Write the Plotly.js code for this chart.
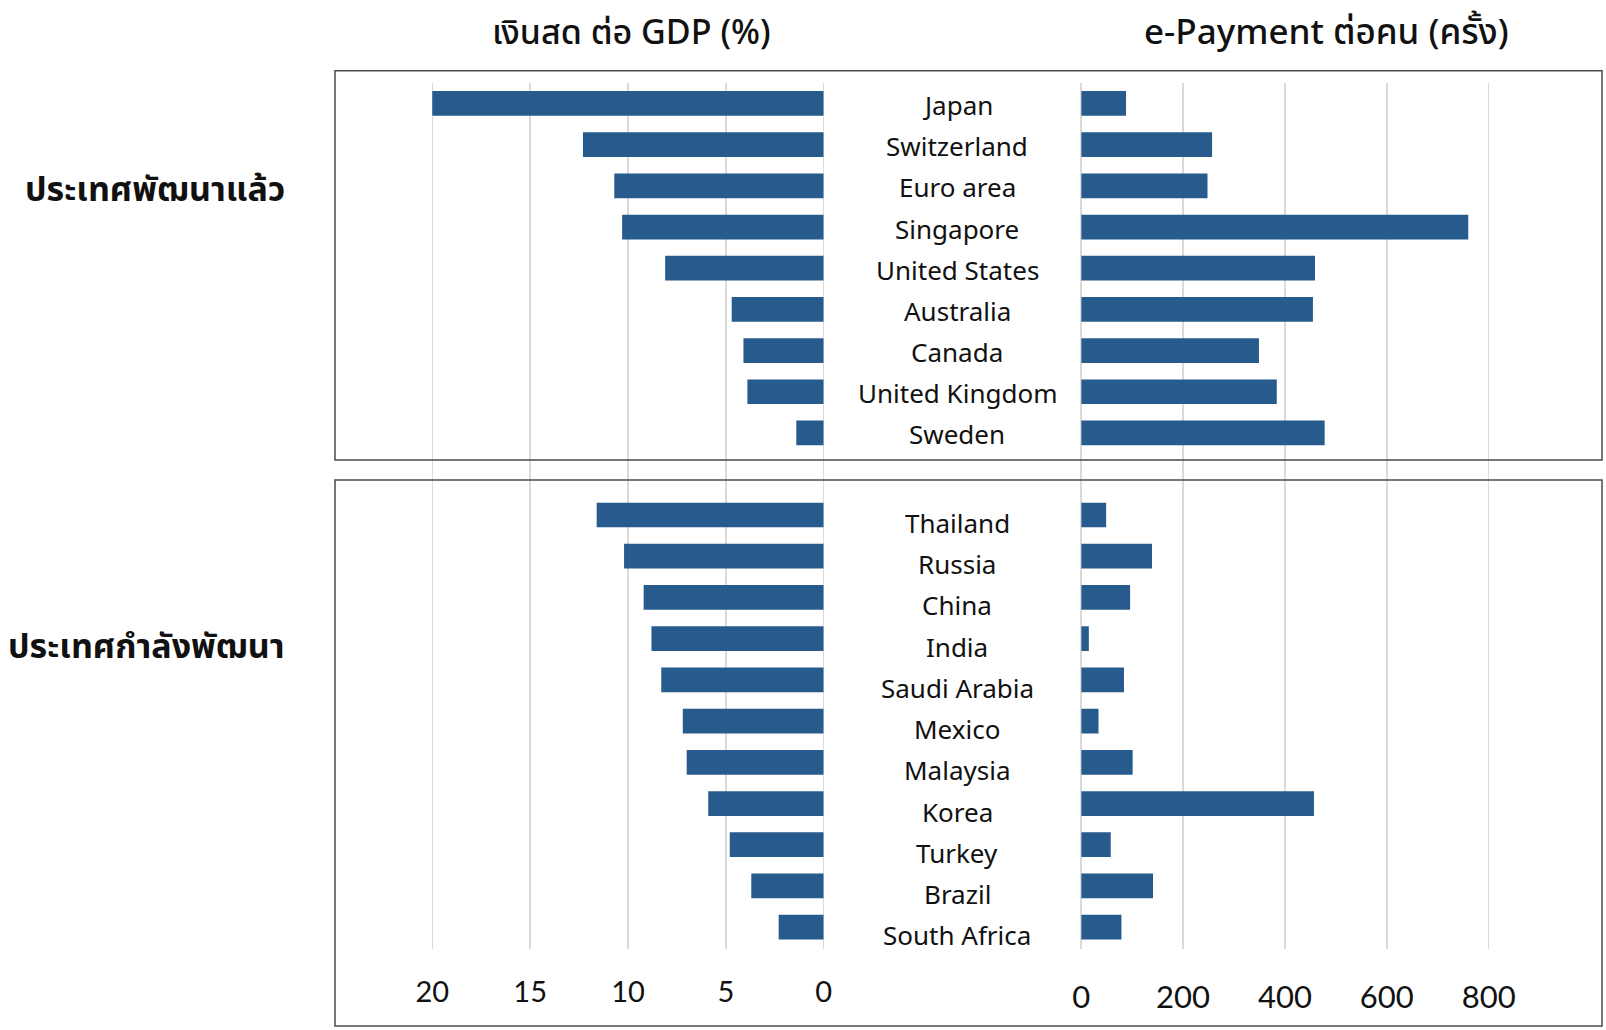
<!DOCTYPE html>
<html>
<head>
<meta charset="utf-8">
<script src="https://cdn.plot.ly/plotly-3.0.1.min.js"></script>
<style>html,body{margin:0;padding:0;background:#fff;}#chart{width:1606px;height:1030px;}</style>
</head>
<body>
<div id="chart"></div>
<script>
// ---- data ----
const devCountries = ["Japan","Switzerland","Euro area","Singapore","United States","Australia","Canada","United Kingdom","Sweden"];
const devCashGDP = [20.0, 12.3, 10.7, 10.3, 8.1, 4.7, 4.1, 3.9, 1.4];
const devEpay = [88, 257, 248, 760, 459, 455, 349, 384, 478];

const emCountries = ["Thailand","Russia","China","India","Saudi Arabia","Mexico","Malaysia","Korea","Turkey","Brazil","South Africa"];
const emCashGDP = [11.6, 10.2, 9.2, 8.8, 8.3, 7.2, 7.0, 5.9, 4.8, 3.7, 2.3];
const emEpay = [49, 139, 96, 15, 84, 34, 101, 457, 58, 141, 79];

const cashTicks = [0, 5, 10, 15, 20];
const epayTicks = [0, 200, 400, 600, 800];

const titleLeft = "เงินสด ต่อ GDP (%)";
const titleRight = "e-Payment ต่อคน (ครั้ง)";
const groupDev = "ประเทศพัฒนาแล้ว";
const groupEm = "ประเทศกำลังพัฒนา";

// ---- layout helpers ----
const W = 1606, H = 1030;
const px = v => v / W;
const py = v => 1 - v / H;
const barColor = "#275b8d";
const gridColor = "#dadada";
const thaiFont = "'Noto Sans Thai', 'Noto Sans', sans-serif";

const traces = [
  {type:"bar", orientation:"h", y:devCountries, x:devCashGDP, xaxis:"x", yaxis:"y", marker:{color:barColor}, hoverinfo:"x+y"},
  {type:"bar", orientation:"h", y:devCountries, x:devEpay, xaxis:"x2", yaxis:"y2", marker:{color:barColor}, hoverinfo:"x+y"},
  {type:"bar", orientation:"h", y:emCountries, x:emCashGDP, xaxis:"x3", yaxis:"y3", marker:{color:barColor}, hoverinfo:"x+y"},
  {type:"bar", orientation:"h", y:emCountries, x:emEpay, xaxis:"x4", yaxis:"y4", marker:{color:barColor}, hoverinfo:"x+y"}
];

const leftDom = [px(334.4), px(823.7)];
const rightDom = [px(1081.2), px(1590.5)];
const topDom = [py(470), py(83.3)];
const botDom = [py(949), py(470)];

function xax(dom, range, tickvals, showLabels, anchor, ticklen, fsize) {
  return {
    domain: dom, range: range, anchor: anchor,
    tickvals: tickvals, ticktext: tickvals.map(String),
    showgrid: true, gridcolor: gridColor, gridwidth: 1.5,
    zeroline: true, zerolinecolor: gridColor, zerolinewidth: 1.5,
    showline: false,
    showticklabels: showLabels,
    ticks: showLabels ? "outside" : "", ticklen: ticklen, tickcolor: "rgba(0,0,0,0)",
    tickfont: {family: "Lato, 'Open Sans', sans-serif", size: fsize, color: "#111"},
    fixedrange: true
  };
}
function yax(dom, range, anchor) {
  return {
    domain: dom, range: range, anchor: anchor, type: "category",
    showgrid: false, zeroline: false, showline: false, showticklabels: false, ticks: "",
    fixedrange: true
  };
}

const annotations = [];
devCountries.forEach(c => annotations.push({
  xref:"paper", yref:"y", x:px(957), y:c, text:c, showarrow:false, xanchor:"center", yanchor:"middle", yshift:-1.5,
  font:{family:"'Noto Sans', sans-serif", size:26, color:"#111"}
}));
emCountries.forEach(c => annotations.push({
  xref:"paper", yref:"y3", x:px(957), y:c, text:c, showarrow:false, xanchor:"center", yanchor:"middle", yshift:-8,
  font:{family:"'Noto Sans', sans-serif", size:26, color:"#111"}
}));
annotations.push({xref:"paper", yref:"paper", x:px(631), y:py(33), text:titleLeft, showarrow:false, xanchor:"center", yanchor:"middle",
  font:{family:thaiFont, size:34, weight:500, color:"#111"}});
annotations.push({xref:"paper", yref:"paper", x:px(1326), y:py(33), text:titleRight, showarrow:false, xanchor:"center", yanchor:"middle",
  font:{family:thaiFont, size:35, weight:500, color:"#111"}});
annotations.push({xref:"paper", yref:"paper", x:px(287), y:py(191), text:"<b>"+groupDev+"</b>", showarrow:false, xanchor:"right", yanchor:"middle",
  font:{family:thaiFont, size:34, color:"#111"}});
annotations.push({xref:"paper", yref:"paper", x:px(287), y:py(647), text:"<b>"+groupEm+"</b>", showarrow:false, xanchor:"right", yanchor:"middle",
  font:{family:thaiFont, size:34, color:"#111"}});

const boxLine = {color:"#4a4a4a", width:1.5};
const shapes = [
  {type:"rect", xref:"paper", yref:"paper", x0:px(335), x1:px(1602), y0:py(460), y1:py(70.7), line:boxLine, fillcolor:"rgba(0,0,0,0)", layer:"above"},
  {type:"rect", xref:"paper", yref:"paper", x0:px(335), x1:px(1602), y0:py(1026), y1:py(480), line:boxLine, fillcolor:"rgba(0,0,0,0)", layer:"above"}
];

const layout = {
  width: W, height: H,
  margin: {l:0, r:0, t:0, b:0},
  paper_bgcolor: "#fff", plot_bgcolor: "rgba(0,0,0,0)",
  showlegend: false,
  bargap: 0.4,
  xaxis: xax(leftDom, [25, 0], cashTicks, false, "y", 0, 29),
  yaxis: yax(topDom, [8.9, -0.49], "x"),
  xaxis2: xax(rightDom, [0, 1000], epayTicks, false, "y2", 0, 31),
  yaxis2: yax(topDom, [8.9, -0.49], "x2"),
  xaxis3: xax(leftDom, [25, 0], cashTicks, true, "y3", 17, 29),
  yaxis3: yax(botDom, [10.53, -1.092], "x3"),
  xaxis4: xax(rightDom, [0, 1000], epayTicks, true, "y4", 21, 31),
  yaxis4: yax(botDom, [10.53, -1.092], "x4"),
  annotations: annotations,
  shapes: shapes
};

Plotly.newPlot("chart", traces, layout, {displayModeBar:false, staticPlot:true});
</script>
</body>
</html>
